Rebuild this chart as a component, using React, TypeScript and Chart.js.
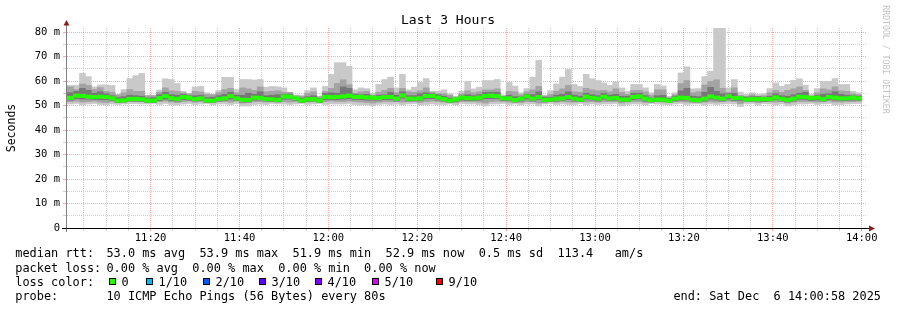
import { useEffect, useRef } from 'react';
import { Chart, registerables } from 'chart.js';

Chart.register(...registerables);

const FONT = '"DejaVu Sans Mono", monospace';

// ---- time axis (minutes since midnight) ----
const axisStartMin = 660 + 58 / 60; // 11:00:58
const axisEndMin = 840 + 58 / 60; // 14:00:58
const binStartMin = 660; // first 80 s bin starts 11:00:00
const binStepMin = 80 / 60;

const timeTickMinutes = [680, 700, 720, 740, 760, 780, 800, 820, 840];
const timeTickLabels = ['11:20', '11:40', '12:00', '12:20', '12:40', '13:00', '13:20', '13:40', '14:00'];

const yTickValues = [10, 20, 30, 40, 50, 60, 70, 80];
const yTickLabels = ['10 m', '20 m', '30 m', '40 m', '50 m', '60 m', '70 m', '80 m'];

// ---- data, ms per 80 s bin ----
const medianRtt = [
  53.1, 53.1, 54.0, 53.9, 53.6, 53.4, 53.6, 53.5, 52.9, 52.0, 52.1, 52.7, 52.7, 52.5, 52.0, 52.0, 53.0, 53.8, 53.0, 52.7, 53.4, 53.2, 52.6,
  52.9, 52.0, 52.0, 52.7, 52.9, 53.8, 52.9, 52.3, 52.3, 53.2, 53.1, 52.6, 52.5, 52.3, 53.7, 53.6, 52.9, 52.0, 52.5, 52.6, 52.0, 53.5, 53.4,
  53.5, 53.7, 54.0, 53.5, 53.5, 53.3, 53.2, 53.1, 53.4, 53.5, 52.8, 54.1, 52.8, 52.8, 52.9, 53.9, 53.9, 53.2, 52.6, 52.0, 52.5, 53.2, 53.0,
  52.9, 53.2, 53.9, 54.0, 53.8, 52.9, 52.9, 52.2, 52.8, 53.7, 52.8, 53.4, 52.3, 52.4, 52.8, 52.9, 53.4, 52.8, 52.4, 53.6, 53.1, 52.8, 53.6,
  52.9, 53.1, 52.4, 52.4, 53.5, 53.7, 52.8, 52.2, 52.4, 52.4, 51.9, 52.8, 53.2, 53.1, 52.3, 52.2, 52.8, 53.7, 53.2, 52.8, 53.7, 53.0, 53.0,
  52.4, 52.6, 52.6, 52.6, 52.6, 53.3, 52.7, 52.3, 52.8, 53.6, 53.4, 53.0, 53.2, 52.6, 53.5, 53.2, 52.9, 52.9, 53.2, 52.9,
];

const maxRtt = [
  58.2, 58.2, 58.2, 63.1, 61.8, 57.6, 58.4, 58.4, 58.2, 54.4, 56.5, 61.0, 62.2, 63.1, 53.5, 53.5, 56.3, 60.9, 60.6, 59.0, 55.8, 54.8, 57.6,
  57.8, 55.2, 54.5, 56.1, 61.5, 61.5, 56.5, 60.6, 60.6, 60.4, 60.6, 57.5, 57.8, 57.6, 57.2, 55.0, 54.3, 54.2, 56.1, 57.2, 53.8, 57.8, 62.7,
  67.5, 67.5, 66.0, 56.4, 57.2, 56.9, 54.9, 58.6, 60.6, 61.6, 57.2, 62.7, 56.4, 57.5, 59.4, 61.0, 55.2, 55.8, 56.4, 54.8, 53.8, 55.8, 59.9,
  56.8, 57.5, 60.2, 60.2, 60.6, 54.2, 59.4, 57.9, 55.2, 56.9, 61.6, 68.4, 54.2, 56.1, 58.8, 61.6, 64.7, 58.6, 57.8, 62.7, 60.9, 60.2, 59.2,
  58.2, 59.7, 57.2, 55.8, 58.6, 58.6, 57.2, 55.2, 58.6, 58.0, 53.8, 55.2, 63.3, 65.8, 56.8, 56.9, 61.8, 64.0, 82.0, 82.0, 57.2, 60.6, 55.5,
  54.5, 55.2, 54.5, 54.8, 56.9, 59.2, 57.9, 58.6, 60.3, 60.9, 58.3, 54.5, 56.9, 59.9, 59.9, 61.0, 58.6, 58.6, 55.8, 55.2,
];

const upperMidRtt = [
  57.6, 57.6, 56.5, 58.8, 58.2, 56.5, 57.3, 55.8, 55.4, 54.4, 55.2, 56.5, 55.8, 55.8, 54.1, 54.1, 55.4, 57.2, 56.0, 55.8, 55.2, 54.8, 55.8,
  55.5, 54.5, 54.4, 55.2, 56.5, 57.0, 55.2, 57.2, 56.8, 56.2, 57.6, 55.6, 55.8, 56.0, 55.4, 55.4, 54.0, 53.8, 55.0, 55.6, 53.6, 55.8, 57.0,
  59.0, 60.5, 58.5, 55.0, 55.6, 55.8, 54.2, 55.4, 56.2, 57.0, 55.2, 57.0, 55.6, 55.4, 56.0, 57.2, 55.6, 54.8, 54.8, 54.2, 53.4, 54.8, 56.0,
  55.2, 55.6, 56.4, 56.4, 56.8, 53.8, 55.8, 55.6, 54.4, 55.6, 56.4, 57.8, 53.8, 54.6, 55.8, 56.8, 58.2, 55.6, 55.4, 57.0, 56.4, 56.0, 56.2,
  55.6, 56.8, 55.4, 54.6, 56.2, 56.2, 55.6, 54.2, 56.4, 56.4, 53.2, 54.4, 59.0, 60.2, 55.2, 55.6, 58.4, 59.8, 60.5, 57.0, 55.4, 57.2, 54.0,
  53.8, 54.4, 53.8, 54.0, 55.2, 56.2, 55.4, 56.2, 56.8, 57.6, 56.2, 53.8, 55.2, 56.8, 56.4, 57.6, 56.0, 55.8, 54.8, 54.4,
];

const upperInnerRtt = [
  55.2, 55.2, 55.8, 57.0, 56.2, 55.0, 55.6, 54.8, 54.0, 53.2, 53.6, 54.2, 54.0, 53.8, 53.0, 53.2, 54.4, 55.4, 54.4, 54.2, 54.6, 54.0, 54.0,
  54.2, 53.2, 53.4, 54.0, 54.6, 55.4, 54.2, 54.2, 55.0, 54.6, 55.6, 54.0, 54.2, 54.4, 54.6, 54.6, 53.2, 53.0, 53.6, 54.0, 52.8, 55.0, 55.2,
  55.0, 57.6, 57.0, 54.6, 54.4, 54.6, 53.8, 54.2, 54.4, 55.4, 54.2, 55.6, 54.0, 54.0, 54.8, 55.2, 54.8, 54.4, 53.8, 53.0, 53.0, 54.0, 54.4,
  54.0, 54.4, 55.4, 55.4, 55.4, 53.6, 54.2, 53.6, 53.6, 54.6, 54.4, 55.6, 53.4, 53.4, 54.2, 54.6, 55.6, 54.2, 53.8, 55.0, 54.4, 54.0, 55.0,
  54.2, 54.6, 53.8, 53.8, 55.0, 55.0, 54.0, 53.0, 54.0, 54.2, 52.8, 53.8, 56.0, 57.0, 53.8, 53.6, 55.4, 57.4, 55.8, 54.8, 54.8, 55.0, 53.8,
  53.4, 53.6, 53.6, 53.4, 53.8, 54.8, 54.0, 53.8, 54.4, 55.0, 55.4, 53.8, 54.2, 54.6, 54.8, 55.6, 54.6, 54.2, 54.0, 53.8,
];

const lowerInnerRtt = [
  52.2, 52.2, 52.8, 52.6, 52.6, 52.4, 52.4, 52.4, 52.0, 51.2, 51.4, 51.8, 51.8, 51.6, 51.2, 51.2, 52.0, 52.6, 52.0, 51.8, 52.4, 52.2, 51.8,
  52.0, 51.2, 51.2, 51.8, 52.0, 52.6, 52.0, 51.4, 51.4, 52.2, 52.2, 51.8, 51.6, 51.4, 52.6, 52.6, 52.0, 51.2, 51.6, 51.8, 51.2, 52.4, 52.4,
  52.4, 52.6, 52.8, 52.4, 52.4, 52.2, 52.2, 52.2, 52.4, 52.4, 51.8, 53.0, 51.8, 51.8, 52.0, 52.8, 52.8, 52.2, 51.8, 51.2, 51.6, 52.2, 52.0,
  52.0, 52.2, 52.8, 52.8, 52.8, 52.0, 52.0, 51.4, 51.8, 52.6, 51.8, 52.4, 51.4, 51.6, 51.8, 52.0, 52.4, 51.8, 51.6, 52.6, 52.2, 51.8, 52.6,
  52.0, 52.2, 51.6, 51.6, 52.4, 52.6, 51.8, 51.4, 51.6, 51.6, 51.2, 51.8, 52.2, 52.2, 51.4, 51.4, 51.8, 52.6, 52.2, 51.8, 52.6, 52.0, 52.0,
  51.6, 51.8, 51.8, 51.6, 51.8, 52.4, 51.8, 51.4, 51.8, 52.6, 52.4, 52.0, 52.2, 51.8, 52.4, 52.2, 52.0, 52.0, 52.2, 52.0,
];

const lowerMidRtt = [
  51.6, 51.6, 51.8, 51.4, 51.6, 51.8, 51.4, 51.2, 51.6, 51.2, 51.4, 51.8, 51.6, 51.6, 51.4, 51.6, 51.6, 51.8, 51.4, 51.2, 51.6, 51.8, 51.4,
  51.6, 51.4, 51.2, 51.6, 51.6, 51.4, 51.8, 51.0, 51.2, 51.6, 51.6, 51.4, 51.8, 51.6, 51.6, 51.4, 51.6, 51.6, 51.4, 51.6, 51.6, 51.6, 51.8,
  51.6, 51.6, 51.8, 51.6, 51.4, 51.2, 51.0, 51.4, 51.6, 51.6, 51.6, 51.4, 51.6, 51.8, 51.2, 51.6, 51.8, 51.6, 51.4, 51.4, 51.2, 51.6, 51.6,
  51.6, 51.4, 51.0, 51.6, 51.8, 51.6, 51.4, 51.4, 51.2, 51.6, 51.6, 51.0, 51.4, 51.6, 51.4, 51.6, 51.4, 51.4, 51.6, 51.4, 51.6, 51.4, 51.6,
  51.6, 51.6, 51.0, 51.4, 51.6, 51.6, 51.2, 51.4, 51.6, 51.4, 51.2, 51.6, 51.6, 51.4, 51.6, 51.4, 51.4, 51.6, 51.4, 51.6, 51.8, 51.6, 50.8,
  51.6, 51.6, 51.2, 51.6, 51.6, 51.4, 51.6, 51.0, 51.4, 51.6, 51.6, 51.6, 51.4, 51.6, 51.8, 51.4, 51.4, 51.6, 51.6, 51.8,
];

const minRtt = [
  50.6, 50.6, 50.8, 50.2, 50.6, 50.8, 50.4, 50.2, 50.6, 50.4, 50.6, 50.8, 50.8, 50.6, 50.6, 50.8, 50.4, 50.8, 50.4, 50.2, 50.6, 50.8, 50.4,
  50.6, 50.8, 50.2, 50.6, 50.6, 50.4, 50.8, 49.8, 49.8, 50.4, 50.6, 50.4, 50.8, 50.6, 50.6, 50.4, 50.6, 50.8, 50.4, 50.6, 50.8, 50.4, 50.6,
  50.6, 50.6, 50.8, 50.4, 50.2, 50.2, 49.8, 50.4, 50.6, 50.4, 50.6, 50.2, 50.6, 50.8, 50.2, 50.4, 50.6, 50.4, 50.4, 50.6, 50.2, 50.8, 50.6,
  50.6, 50.4, 49.8, 50.6, 50.6, 50.8, 50.4, 50.6, 50.2, 50.6, 50.6, 49.8, 50.6, 50.8, 50.4, 50.6, 50.4, 50.4, 50.8, 50.2, 50.6, 50.4, 50.6,
  50.6, 50.8, 49.8, 50.4, 50.6, 50.6, 50.2, 50.8, 50.6, 50.4, 50.2, 50.6, 50.8, 50.4, 50.6, 50.6, 50.2, 50.6, 50.4, 50.6, 50.8, 50.6, 49.6,
  50.6, 50.8, 50.2, 50.8, 50.6, 50.2, 50.6, 49.8, 50.2, 50.6, 50.6, 50.8, 50.4, 50.6, 50.8, 50.2, 50.4, 50.6, 50.8, 50.8,
];

// ---- legend texts ----
const legendLabels = ['median rtt:', 'packet loss:', 'loss color:', 'probe:'];
const rttSummary = '53.0 ms avg  53.9 ms max  51.9 ms min  52.9 ms now  0.5 ms sd  113.4   am/s';
const lossSummary = '0.00 % avg  0.00 % max  0.00 % min  0.00 % now';
const lossColorLabels = ['0', '1/10', '2/10', '3/10', '4/10', '5/10', '9/10'];
const lossColors = ['#26ff00', '#00b8ff', '#0059ff', '#5e00ff', '#7e00ff', '#dd00ff', '#ff0000'];
const lossSwatchX = [109, 146, 203, 259, 315, 372, 436];
const probeText = '10 ICMP Echo Pings (56 Bytes) every 80s';
const endText = 'end: Sat Dec  6 14:00:58 2025';
const titleText = 'Last 3 Hours';
const yTitle = 'Seconds';
const watermark = 'RRDTOOL / TOBI OETIKER';

const binCenter = (i: number) => binStartMin + (i + 0.5) * binStepMin;
const band = (lo: number[], hi: number[]) => lo.map((v, i) => ({ x: binCenter(i), y: [v, hi[i]] }));

const decorPlugin = {
  id: 'smokeDecor',
  afterDraw(chart: any) {
    const ctx = chart.ctx as CanvasRenderingContext2D;
    const { left, right, top, bottom } = chart.chartArea;
    ctx.save();
    // axis extensions
    ctx.lineWidth = 1;
    ctx.strokeStyle = '#808080';
    ctx.beginPath();
    ctx.moveTo(left + 0.5, 23);
    ctx.lineTo(left + 0.5, bottom + 4);
    ctx.stroke();
    ctx.strokeStyle = '#000';
    ctx.beginPath();
    ctx.moveTo(left - 4, bottom + 0.5);
    ctx.lineTo(right + 3, bottom + 0.5);
    ctx.stroke();
    // arrows
    ctx.fillStyle = '#8b1c1c';
    ctx.beginPath();
    ctx.moveTo(left + 0.5, 20);
    ctx.lineTo(left - 2.5, 25.5);
    ctx.lineTo(left + 3.5, 25.5);
    ctx.closePath();
    ctx.fill();
    ctx.beginPath();
    ctx.moveTo(right + 9, bottom + 0.5);
    ctx.lineTo(right + 3, bottom - 2.5);
    ctx.lineTo(right + 3, bottom + 3.5);
    ctx.closePath();
    ctx.fill();

    // title
    ctx.fillStyle = '#000';
    ctx.font = `13px ${FONT}`;
    ctx.textAlign = 'center';
    ctx.textBaseline = 'alphabetic';
    ctx.fillText(titleText, 448, 24);

    // y title
    ctx.save();
    ctx.translate(15, (top + bottom) / 2);
    ctx.rotate(-Math.PI / 2);
    ctx.font = `11.5px ${FONT}`;
    ctx.textAlign = 'center';
    ctx.fillText(yTitle, 0, 0);
    ctx.restore();

    // watermark
    ctx.save();
    ctx.translate(883, 59.5);
    ctx.rotate(Math.PI / 2);
    ctx.font = `8.2px ${FONT}`;
    ctx.fillStyle = '#c4c4c4';
    ctx.textAlign = 'center';
    ctx.fillText(watermark, 0, 0);
    ctx.restore();

    // legend
    ctx.font = `11.9px ${FONT}`;
    ctx.textAlign = 'left';
    ctx.fillStyle = '#000';
    const rows = [257.3, 271.7, 286, 300.2];
    legendLabels.forEach((t, i) => ctx.fillText(t, 15.3, rows[i]));
    ctx.fillText(rttSummary, 106.4, rows[0]);
    ctx.fillText(lossSummary, 106.4, rows[1]);
    lossColorLabels.forEach((t, i) => {
      const sx = lossSwatchX[i];
      ctx.fillStyle = lossColors[i];
      ctx.fillRect(sx, 278, 7, 7);
      ctx.strokeStyle = '#000';
      ctx.strokeRect(sx + 0.5, 278.5, 6, 6);
      ctx.fillStyle = '#000';
      ctx.fillText(t, sx + 12.5, rows[2]);
    });
    ctx.fillText(probeText, 106.4, rows[3]);
    ctx.textAlign = 'right';
    ctx.fillText(endText, 881, rows[3]);
    ctx.restore();
  },
};

export default function App() {
  const ref = useRef<HTMLCanvasElement>(null);
  useEffect(() => {
    const canvas = ref.current;
    if (!canvas) return;
    const majorRed = 'rgba(255,0,0,0.35)';
    const minorGrey = 'rgba(150,150,150,0.45)';
    const xGridTicks: number[] = [];
    for (let m = 665; m <= 840; m += 5) xGridTicks.push(m);
    const yGridTicks: number[] = [];
    for (let v = 0; v <= 80; v += 5) yGridTicks.push(v);

    const common = {
      grouped: false,
      barPercentage: 1,
      categoryPercentage: 1,
      borderWidth: 0,
    };
    const chart = new Chart(canvas, {
      type: 'bar',
      data: {
        datasets: [
          {
            ...common,
            label: 'median',
            data: medianRtt.map((m, i) => ({ x: binCenter(i), y: [m - 0.7, m + 0.7] })),
            backgroundColor: '#26ff00',
          },
          { ...common, label: 'inner', data: band(lowerInnerRtt, upperInnerRtt), backgroundColor: '#777777' },
          { ...common, label: 'mid', data: band(lowerMidRtt, upperMidRtt), backgroundColor: '#a3a3a3' },
          { ...common, label: 'outer', data: band(minRtt, maxRtt), backgroundColor: '#c9c9c9' },
        ] as any,
      },
      options: {
        responsive: false,
        devicePixelRatio: 1,
        animation: false,
        events: [],
        layout: { padding: { left: 0, top: 28, right: 31, bottom: 0 } },
        plugins: { legend: { display: false }, title: { display: false }, tooltip: { enabled: false } },
        scales: {
          x: {
            type: 'linear',
            min: axisStartMin,
            max: axisEndMin,
            offset: false,
            afterFit: (s: any) => {
              s.height = 82;
            },
            afterBuildTicks: (s: any) => {
              s.ticks = xGridTicks.map((value) => ({ value }));
            },
            grid: {
              offset: false,
              color: (c: any) => (c.tick && c.tick.value % 20 === 0 ? majorRed : minorGrey),
              tickLength: 3,
              lineWidth: 1,
            },
            border: { display: true, color: '#000', width: 1, dash: [1, 1] },
            ticks: {
              autoSkip: false,
              maxRotation: 0,
              padding: 1,
              color: '#000',
              font: { family: FONT, size: 10.5 },
              callback: (v: any) => {
                const k = timeTickMinutes.indexOf(Number(v));
                return k >= 0 ? timeTickLabels[k] : '';
              },
            },
          },
          y: {
            type: 'linear',
            min: 0,
            max: 200 / 2.45,
            afterFit: (s: any) => {
              s.width = 66;
            },
            afterBuildTicks: (s: any) => {
              s.ticks = yGridTicks.map((value) => ({ value }));
            },
            grid: {
              color: (c: any) => (c.tick && c.tick.value % 10 === 0 ? majorRed : minorGrey),
              tickLength: 3,
              lineWidth: 1,
            },
            border: { display: true, color: '#808080', width: 1, dash: [1, 1] },
            ticks: {
              autoSkip: false,
              padding: 3,
              color: '#000',
              font: { family: FONT, size: 10.5 },
              callback: (v: any) => {
                if (Number(v) === 0) return '0';
                const k = yTickValues.indexOf(Number(v));
                return k >= 0 ? yTickLabels[k] : '';
              },
            },
          },
        },
      } as any,
      plugins: [decorPlugin],
    });
    return () => chart.destroy();
  }, []);
  return (
    <div style={{ position: 'absolute', left: 0, top: 0, width: 897, height: 310, background: '#fff' }}>
      <canvas ref={ref} width={897} height={310} style={{ display: 'block', width: 897, height: 310 }} />
    </div>
  );
}
